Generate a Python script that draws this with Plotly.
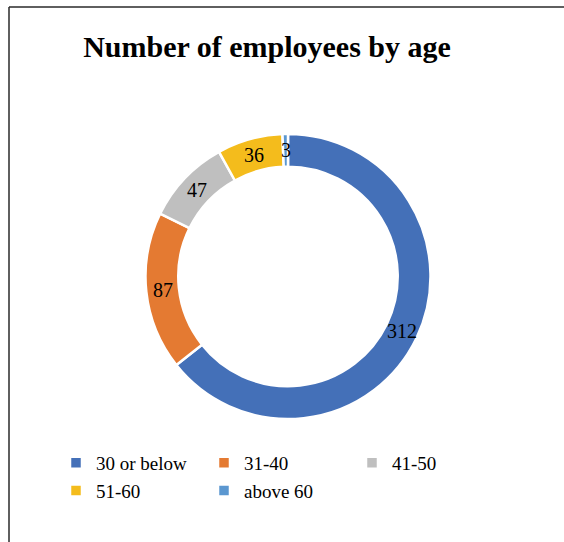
import math
import plotly.graph_objects as go

categories = ["30 or below", "31-40", "41-50", "51-60", "above 60"]
values = [312, 87, 47, 36, 3]
colors = ["#4470B8", "#E47A32", "#BFBFBF", "#F4BC1C", "#5B97D0"]

W, H = 564, 542
cx, cy, R = 288, 276.5, 142.5
HOLE = 0.77

dom_x = [(cx - R) / W, (cx + R) / W]
dom_y = [(H - cy - R) / H, (H - cy + R) / H]

fig = go.Figure(go.Pie(
    labels=categories,
    values=values,
    sort=False,
    direction="clockwise",
    rotation=0,
    hole=HOLE,
    marker=dict(colors=colors, line=dict(color="white", width=2.5)),
    textinfo="none",
    domain=dict(x=dom_x, y=dom_y),
))

# value labels at each slice's mid-angle, mid-ring (derived from the data)
total = sum(values)
r_mid = R * (1 + HOLE) / 2
annotations = []
cum = 0
for v in values:
    ang = 2 * math.pi * (cum + v / 2) / total
    cum += v
    px = cx + r_mid * math.sin(ang)
    py = cy - r_mid * math.cos(ang)
    annotations.append(dict(
        x=px / W, y=1 - py / H, xref="paper", yref="paper",
        text=str(v), showarrow=False, xanchor="center", yanchor="middle",
        font=dict(family="Liberation Serif", size=20, color="black"),
    ))

fig.update_layout(
    width=W, height=H,
    margin=dict(l=0, r=0, t=0, b=0, autoexpand=False),
    paper_bgcolor="white", plot_bgcolor="white",
    font=dict(family="Liberation Serif", color="black"),
    title=dict(text="<b>Number of employees by age</b>", x=267 / W, xanchor="center",
               y=1 - 46 / H, yanchor="middle",
               font=dict(family="Liberation Serif", size=30, color="black")),
    showlegend=True,
    legend=dict(orientation="h", x=56 / W, xanchor="left", y=1 - 444 / H, yanchor="top",
                entrywidth=103, entrywidthmode="pixels",
                font=dict(family="Liberation Serif", size=19, color="black"),
                bgcolor="rgba(0,0,0,0)"),
    annotations=annotations,
    shapes=[
        dict(type="line", xref="paper", yref="paper", x0=9 / W, x1=1, y0=1 - 7 / H, y1=1 - 7 / H,
             line=dict(color="#2A2A2A", width=1.5)),
        dict(type="line", xref="paper", yref="paper", x0=9 / W, x1=9 / W, y0=0, y1=1 - 7 / H,
             line=dict(color="#2A2A2A", width=1.5)),
    ],
)

fig.write_html("out.html")
